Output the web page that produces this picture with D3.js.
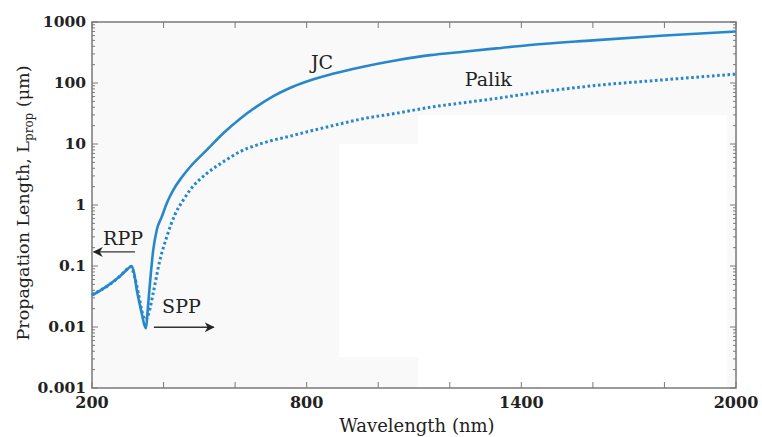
<!DOCTYPE html>
<html>
<head>
<meta charset="utf-8">
<script src="https://cdn.jsdelivr.net/npm/d3@7"></script>
<style>
  body { margin: 0; background: #fff; }
  svg text { font-family: "DejaVu Serif", serif; fill: #222; }
</style>
</head>
<body>
<svg id="chart" width="762" height="437"></svg>
<script>
// wavelength (nm) and propagation length (um)
const jcWavelength = [200, 240, 278, 297, 311, 318, 325, 339, 346, 351, 356, 362, 371, 381, 395, 409, 427, 450, 474, 521, 567, 614, 660, 707, 753, 800, 870, 958, 1052, 1145, 1238, 1331, 1424, 1600, 1800, 2000];
const jcLength     = [0.033, 0.046, 0.068, 0.086, 0.1, 0.075, 0.041, 0.0168, 0.011, 0.0096, 0.02, 0.052, 0.18, 0.39, 0.64, 1.07, 1.76, 2.8, 4.2, 8, 15, 26, 41, 61, 83, 106, 140, 185, 236, 286, 326, 370, 420, 500, 600, 700];

const palikWavelength = [200, 250, 278, 297, 308, 318, 330, 342, 350, 360, 371, 390, 409, 432, 455, 474, 521, 567, 614, 660, 707, 753, 800, 865, 958, 1052, 1145, 1238, 1331, 1424, 1600, 1800, 2000];
const palikLength     = [0.034, 0.05, 0.068, 0.088, 0.097, 0.07, 0.035, 0.016, 0.013, 0.018, 0.036, 0.126, 0.3, 0.7, 1.2, 1.76, 3.3, 5.1, 7.5, 9.6, 11.6, 13.4, 15.8, 19.5, 26, 32, 40, 47.5, 56, 67.5, 90, 113, 140];

const xTicks = [200, 400, 600, 800, 1000, 1200, 1400, 1600, 1800, 2000];
const xTickLabels = [200, 800, 1400, 2000];
const yTicks = [0.001, 0.01, 0.1, 1, 10, 100, 1000];
const yTickLabels = ['0.001', '0.01', '0.1', '1', '10', '100', '1000'];

const margin = { top: 22, right: 26, bottom: 49, left: 92 };
const width = 762 - margin.left - margin.right;
const height = 437 - margin.top - margin.bottom;
const blue = '#2787cb';
const frame = '#7a7a7a';

const svg = d3.select('#chart');
const g = svg.append('g').attr('transform', `translate(${margin.left},${margin.top})`);

const x = d3.scaleLinear().domain([200, 2000]).range([0, width]);
const y = d3.scaleLog().domain([0.001, 1000]).range([height, 0]);

// plot background (light grey, with the paler patches of the original scan)
g.append('rect')
  .attr('width', width).attr('height', height)
  .attr('fill', '#f9f9f9');
g.append('rect')
  .attr('x', 326).attr('y', 93).attr('width', 309).attr('height', height - 93)
  .attr('fill', '#fff');
g.append('rect')
  .attr('x', 247).attr('y', 122).attr('width', 80).attr('height', 213)
  .attr('fill', '#fff');

// minor log ticks
const minor = [];
yTicks.slice(0, -1).forEach(d => {
  for (let k = 2; k <= 9; k++) minor.push(d * k);
});

function tickLines(sel, vals, len, side) {
  sel.selectAll(null).data(vals).join('line')
    .attr('stroke', frame).attr('stroke-width', 1)
    .each(function (d) {
      const l = d3.select(this);
      if (side === 'left') l.attr('x1', 0).attr('x2', len).attr('y1', y(d)).attr('y2', y(d));
      if (side === 'right') l.attr('x1', width).attr('x2', width - len).attr('y1', y(d)).attr('y2', y(d));
      if (side === 'bottom') l.attr('x1', x(d)).attr('x2', x(d)).attr('y1', height).attr('y2', height - len);
      if (side === 'top') l.attr('x1', x(d)).attr('x2', x(d)).attr('y1', 0).attr('y2', len);
    });
}

const ticks = g.append('g');
tickLines(ticks, yTicks, 6, 'left');
tickLines(ticks, minor, 3, 'left');
tickLines(ticks, yTicks, 6, 'right');
tickLines(ticks, minor, 3, 'right');
tickLines(ticks, xTicks, 6, 'bottom');
tickLines(ticks, xTicks, 6, 'top');

g.append('rect')
  .attr('width', width).attr('height', height)
  .attr('fill', 'none').attr('stroke', frame).attr('stroke-width', 1.5);

// tick labels
g.selectAll('.ylab').data(yTicks).join('text')
  .attr('x', -6).attr('y', d => y(d)).attr('dy', '0.35em')
  .attr('text-anchor', 'end')
  .style('font-size', '15.5px').style('font-weight', 'bold')
  .text((d, i) => yTickLabels[i]);

g.selectAll('.xlab').data(xTickLabels).join('text')
  .attr('x', d => x(d)).attr('y', height + 20)
  .attr('text-anchor', 'middle')
  .style('font-size', '16px').style('font-weight', 'bold')
  .text(d => d);

// axis titles
svg.append('text')
  .attr('x', margin.left + width / 2 + 3).attr('y', 432)
  .attr('text-anchor', 'middle').style('font-size', '18px')
  .text('Wavelength (nm)');

const yt = svg.append('text')
  .attr('transform', `translate(29,${margin.top + height / 2 - 2}) rotate(-90)`)
  .attr('text-anchor', 'middle').style('font-size', '17.5px');
yt.append('tspan').text('Propagation Length, L');
yt.append('tspan').attr('dy', 4).style('font-size', '12px').text('prop');
yt.append('tspan').attr('dy', -4).text(' (\u03bcm)');

// curves
const line = d3.line()
  .x(d => x(d[0])).y(d => y(d[1]))
  .curve(d3.curveMonotoneX);

g.append('path')
  .datum(d3.zip(palikWavelength, palikLength))
  .attr('d', line)
  .attr('fill', 'none').attr('stroke', blue)
  .attr('stroke-width', 3).attr('stroke-dasharray', '2.6,2.6');

g.append('path')
  .datum(d3.zip(jcWavelength, jcLength))
  .attr('d', line)
  .attr('fill', 'none').attr('stroke', blue)
  .attr('stroke-width', 2.6).attr('stroke-linejoin', 'round');

// annotations
const note = (t, wl, v) => g.append('text')
  .attr('x', x(wl)).attr('y', y(v))
  .style('font-size', '19px').text(t);
note('JC', 812, 170);
note('Palik', 1242, 89);
note('RPP', 231, 0.22);
note('SPP', 396, 0.017);

svg.append('defs').append('marker')
  .attr('id', 'arrow').attr('viewBox', '0 0 10 10')
  .attr('refX', 9).attr('refY', 5)
  .attr('markerWidth', 10).attr('markerHeight', 10)
  .attr('markerUnits', 'userSpaceOnUse')
  .attr('orient', 'auto')
  .append('path').attr('d', 'M0,0 L10,5 L0,10 L3,5 Z').attr('fill', '#222');

const arrow = (w1, w2, v) => g.append('line')
  .attr('x1', x(w1)).attr('x2', x(w2))
  .attr('y1', y(v)).attr('y2', y(v))
  .attr('stroke', '#333').attr('stroke-width', 1.3)
  .attr('marker-end', 'url(#arrow)');
arrow(320, 205, 0.17);
arrow(373, 540, 0.0099);
</script>
</body>
</html>
